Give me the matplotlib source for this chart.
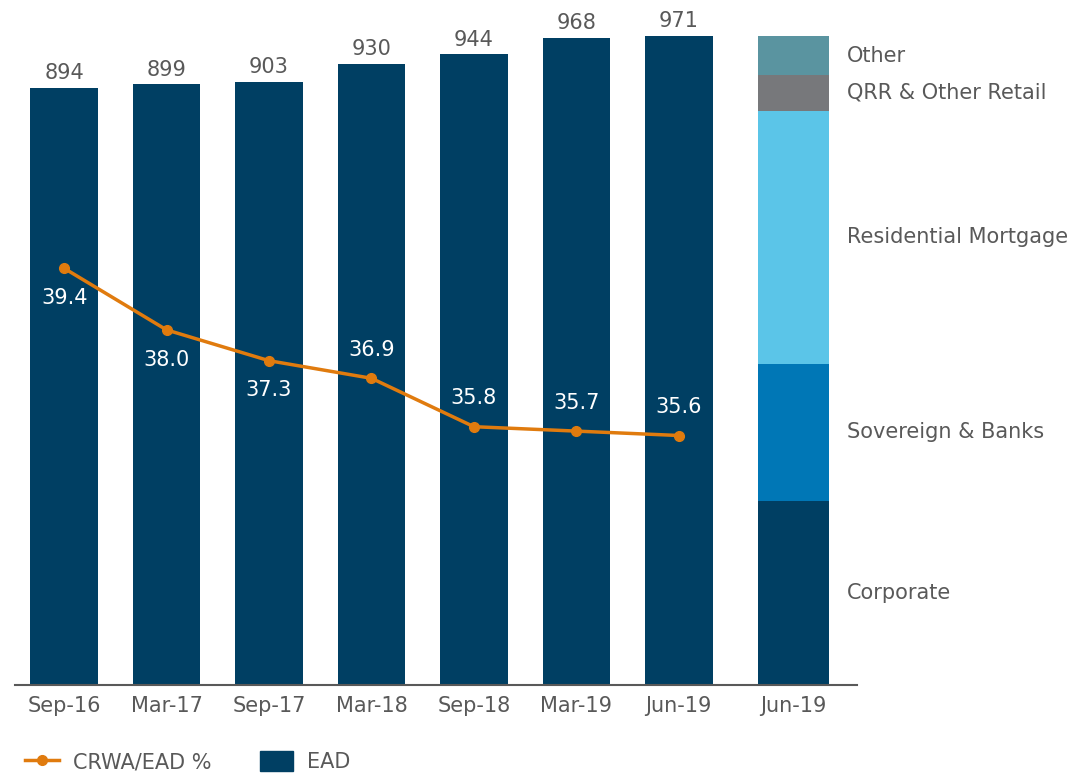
import matplotlib
matplotlib.use("Agg")
import matplotlib.pyplot as plt
from matplotlib.lines import Line2D
from matplotlib.patches import Patch

periods = ["Sep-16", "Mar-17", "Sep-17", "Mar-18", "Sep-18", "Mar-19", "Jun-19"]
ead = [894, 899, 903, 930, 944, 968, 971]
crwa_ead = [39.4, 38.0, 37.3, 36.9, 35.8, 35.7, 35.6]

mix_labels = ["Corporate", "Sovereign & Banks", "Residential Mortgage",
              "QRR & Other Retail", "Other"]
mix_values = [275, 206, 378, 54, 58]
mix_colors = ["#003f63", "#0077b6", "#5bc5e8", "#77787b", "#5a94a0"]

NAVY = "#003f63"
ORANGE = "#e07b0e"
GREY = "#595959"
FS = 15

plt.rcParams["font.family"] = ["DejaVu Sans"]

fig = plt.figure(figsize=(10.76, 7.74), dpi=100)
ax = fig.add_axes([0.0139, 0.115, 0.7826, 0.859])

x = list(range(len(periods)))
ax.bar(x, ead, width=0.66, color=NAVY)
for xi, v in zip(x, ead):
    ax.text(xi, v + 7, f"{v}", ha="center", va="bottom", fontsize=FS, color=GREY)

# stacked mix bar
xs = 7.12
bottom = 0
for lab, v, c in zip(mix_labels, mix_values, mix_colors):
    ax.bar(xs, v, bottom=bottom, width=0.69, color=c)
    ax.text(xs + 0.52, bottom + v / 2, lab, ha="left", va="center",
            fontsize=FS, color=GREY, clip_on=False)
    bottom += v

ax.set_xlim(-0.48, 7.74)
ax.set_ylim(0, 995)
ax.set_xticks(x + [xs])
ax.set_xticklabels(periods + ["Jun-19"], fontsize=FS, color=GREY)
ax.tick_params(axis="x", length=0, pad=8)
ax.set_yticks([])
for s in ["top", "right", "left"]:
    ax.spines[s].set_visible(False)
ax.spines["bottom"].set_color(GREY)
ax.spines["bottom"].set_linewidth(1.5)

ax2 = ax.twinx()
ax2.plot(x, crwa_ead, color=ORANGE, lw=2.5, marker="o", ms=7)
ax2.set_ylim(29.93, 45.04)
ax2.axis("off")
for i, v in enumerate(crwa_ead):
    if i < 3:
        ax2.text(i, v - 0.45, f"{v:.1f}", ha="center", va="top", fontsize=FS, color="white")
    else:
        ax2.text(i, v + 0.42, f"{v:.1f}", ha="center", va="bottom", fontsize=FS, color="white")

handles = [Line2D([0], [0], color=ORANGE, lw=2.5, marker="o", ms=7),
           Patch(color=NAVY)]
fig.legend(handles, ["CRWA/EAD %", "EAD"], loc="lower left",
           bbox_to_anchor=(0.006, -0.022), ncol=2, frameon=False, fontsize=FS,
           labelcolor=GREY, handlelength=1.6, columnspacing=2.3, handleheight=1.1,
           handletextpad=0.7)

fig.savefig("out.png", dpi=100)
